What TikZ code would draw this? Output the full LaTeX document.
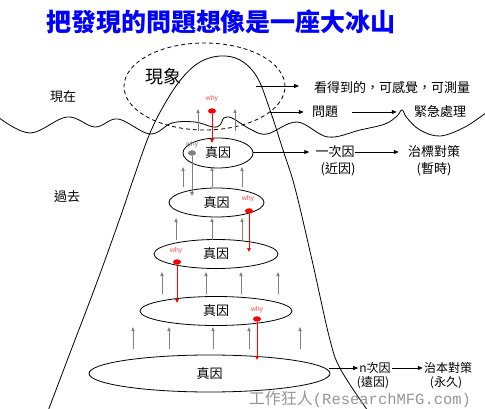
\documentclass[tikz,border=0pt]{standalone}
\usepackage{fontspec}
\setmainfont{Liberation Sans}
\newfontfamily\cjk{Noto Sans CJK TC}
\newfontfamily\monofnt{Liberation Mono}
\usetikzlibrary{arrows.meta,shapes.geometric}
\definecolor{titleblue}{RGB}{0,0,255}
\definecolor{whyred}{RGB}{255,80,80}
\definecolor{arrgray}{RGB}{128,128,128}
\definecolor{wmgray}{RGB}{150,150,150}
\begin{document}
\begin{tikzpicture}[x=1pt,y=-1pt,
  lbl/.style={font=\cjk\fontsize{13}{14}\selectfont, inner sep=0pt},
  slbl/.style={font=\cjk\fontsize{12}{13}\selectfont, inner sep=0pt},
  ell/.style={draw, ellipse, inner sep=0pt, line width=0.8pt, font=\cjk\fontsize{13}{14}\selectfont},
  blk/.style={-{Triangle[length=5pt,width=4pt]}, line width=0.8pt},
  gup/.style={draw=arrgray, line width=0.8pt, -{Triangle[length=4pt,width=3.2pt]}},
  whyarr/.style={draw=red, line width=1pt, -{Triangle[length=4pt,width=3.5pt]}},
  grayarr/.style={draw=arrgray, line width=1pt, -{Triangle[length=4pt,width=3.5pt]}},
  whydot/.style={ellipse, fill=red, minimum width=8pt, minimum height=5.5pt, inner sep=0pt},
  graydot/.style={ellipse, fill=arrgray, minimum width=8pt, minimum height=5.5pt, inner sep=0pt},
  whytxt/.style={font=\fontsize{7}{8}\selectfont, text=whyred, inner sep=0pt},
  graywhy/.style={font=\fontsize{7}{8}\selectfont, text=arrgray, inner sep=0pt}
]
\useasboundingbox (0,0) rectangle (485,409);

% title
\node[font=\cjk\bfseries\fontsize{25}{27}\selectfont, text=titleblue, inner sep=0pt] (title) at (221,22) {把發現的問題想像是一座大冰山};

% water line
\draw[line width=0.8pt] plot[smooth, tension=0.6] coordinates {(-2,117) (30,133) (67,117) (95,127) (118,119) (150,134) (172,123) (195,122) (213,127) (220,125) (224,118) (232,118) (250,129) (267,134) (297,122) (328,137) (360,130) (385,124) (397,116) (402,110) (407,118) (420,130) (440,136) (465,127) (487,112)};

% iceberg
\draw[line width=0.8pt] plot[smooth, tension=0.6] coordinates {(48,411) (70,353) (97,282) (120,218) (133,180) (150,133) (167,100) (183,77) (200,62) (220,56) (240,60) (257,77) (270,110) (283,150) (295,188) (312,260) (330,340) (341,370) (368,411)};

% phenomenon
\node[draw, dashed, dash pattern=on 4pt off 3pt, ellipse, line width=0.8pt, minimum width=161pt, minimum height=87pt, inner sep=0pt] (phen) at (204.5,86.5) {};
\node[font=\cjk\fontsize{18}{20}\selectfont, inner sep=0pt] (phent) at (163,77) {現象};

% side labels
\node[lbl] (now) at (63,97) {現在};
\node[lbl] (past) at (67,197) {過去};

% cause ellipses
\node[ell, minimum width=70pt, minimum height=30pt] (e1) at (218,153) {真因};
\node[ell, minimum width=95pt, minimum height=29pt] (e2) at (216.5,202.5) {真因};
\node[ell, minimum width=124pt, minimum height=29pt] (e3) at (216,254) {真因};
\node[ell, minimum width=152pt, minimum height=29pt] (e4) at (216,311) {真因};
\node[ell, minimum width=241pt, minimum height=37pt] (e5) at (209.5,373.5) {真因};

% right labels
\coordinate (a1s) at (256,86);
\node[lbl, anchor=west] (t1) at (314,88) {看得到的，可感覺，可測量};
\draw[blk] (a1s) -- (t1.west |- a1s) [shorten >=15pt];

\coordinate (a2s) at (270,112);
\node[lbl] (t2) at (325,112) {問題};
\node[lbl] (t2b) at (440,112) {緊急處理};
\draw[blk, shorten >=8pt] (a2s) -- (t2.west |- a2s);
\draw[blk, shorten <=14pt, shorten >=17pt] (t2.east) -- (t2b.west);

\node[lbl] (t3) at (335,152) {一次因};
\node[lbl] (t3p) at (338,169) {(近因)};
\node[lbl] (t3b) at (434,152) {治標對策};
\node[lbl] (t3bp) at (434,169) {(暫時)};
\draw[blk, shorten >=6pt] (e1.east |- t3) -- (t3.west);
\draw[blk, shorten >=9pt] (t3.east) -- (t3b.west);

\node[slbl] (t5) at (375,368) {n次因};
\node[slbl] (t5p) at (373,383) {(遠因)};
\node[slbl] (t5b) at (448,368) {治本對策};
\node[slbl] (t5bp) at (446,383) {(永久)};
\draw[blk, shorten <=-1pt, shorten >=1pt] (e5.east |- t5) -- (t5.west);
\draw[blk, shorten <=1pt, shorten >=1pt] (t5.east) -- (t5b.west);

% gray upward arrows
\foreach \x in {198,235} \draw[gup] (\x,131) -- (\x,109);
\foreach \x in {183,212,242} \draw[gup] (\x,187) -- (\x,167);
\foreach \x in {176,212,242} \draw[gup] (\x,240) -- (\x,218);
\foreach \x in {162,206,241,278} \draw[gup] (\x,294) -- (\x,272);
\foreach \x in {133,169,213,249,300} \draw[gup] (\x,349) -- (\x,327);

% why arrows
\node[graywhy] (gw) at (192,145) {why};
\node[graydot] (gd) at (192,153) {};
\coordinate (gde) at (192,196);
\draw[grayarr] (gd) -- (gde);

\node[whytxt] (w1) at (212,99) {why};
\node[whydot] (d1) at (212,111) {};
\coordinate (d1e) at (212,143);
\draw[whyarr] (d1) -- (d1e);

\node[whytxt] (w2) at (248,199) {why};
\node[whydot] (d2) at (249,211) {};
\coordinate (d2e) at (249,252);
\draw[whyarr] (d2) -- (d2e);

\node[whytxt] (w3) at (176,251) {why};
\node[whydot] (d3) at (177,262) {};
\coordinate (d3e) at (177,303);
\draw[whyarr] (d3) -- (d3e);

\node[whytxt] (w4) at (257,310) {why};
\node[whydot] (d4) at (257,319) {};
\coordinate (d4e) at (257,360);
\draw[whyarr] (d4) -- (d4e);

% watermark
\node[text=wmgray, inner sep=0pt] (wm) at (360,399) {{\cjk\fontsize{16}{17}\selectfont 工作狂人}{\monofnt\fontsize{15.5}{17}\selectfont (ResearchMFG.com)}};
\end{tikzpicture}
\end{document}
